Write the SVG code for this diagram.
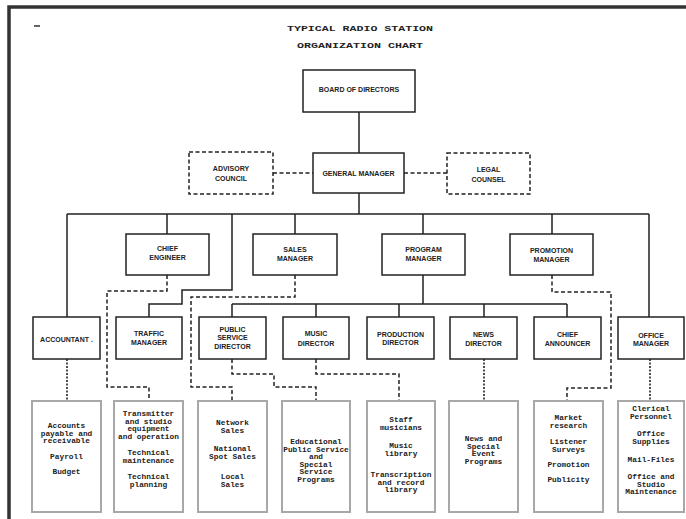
<svg xmlns="http://www.w3.org/2000/svg" width="686" height="519" viewBox="0 0 686 519">
<style>
.bg{fill:#fff}
.frame{stroke:#333;stroke-width:3.5;fill:none}
.box{fill:#fff;stroke:#222;stroke-width:1.5}
.dbox{fill:#fff;stroke:#222;stroke-width:1.5;stroke-dasharray:4 2.5}
.lbox{fill:#fff;stroke:#a8a8a8;stroke-width:2}
.ln{fill:none;stroke:#222;stroke-width:1.5}
.dl{fill:none;stroke:#222;stroke-width:1.5;stroke-dasharray:4 2.5}
.dd{fill:none;stroke:#222;stroke-width:1.6;stroke-dasharray:2 1.5}
.t{font-family:"Liberation Sans",Arial,sans-serif;font-size:7px;font-weight:bold;fill:#222;text-anchor:middle;dominant-baseline:central}
.tt{font-family:"Liberation Mono","Courier New",monospace;font-size:8px;font-weight:bold;fill:#222;text-anchor:middle;dominant-baseline:central}
.s{font-family:"Liberation Mono","Courier New",monospace;font-size:7.8px;font-weight:bold;fill:#222;text-anchor:middle;dominant-baseline:central}
</style>
<rect class="bg" x="0" y="0" width="686" height="519"/>
<path class="frame" d="M686,7 H9 V519"/>
<path d="M34,26 H40" stroke="#333" stroke-width="1.5"/>

<text class="tt" x="360" y="28" textLength="146" lengthAdjust="spacingAndGlyphs">TYPICAL RADIO STATION</text>
<text class="tt" x="360" y="45" textLength="126" lengthAdjust="spacingAndGlyphs">ORGANIZATION CHART</text>

<g id="connectors">
<path class="ln" d="M359,112 V153 M359,193 V214 M67,214 H649 M67,214 V317 M167,214 V234 M232,214 V290 H182 V304 H149 V317 M295,214 V234 M423,214 V234 M552,214 V234 M649,214 V317"/>
<path class="ln" d="M423,275 V304 M232,304 H567 M232,304 V317 M316,304 V317 M399,304 V317 M484,304 V317 M567,304 V317"/>
<path class="dl" d="M273,173 H313 M404,173 H447"/>
<path class="dl" d="M167,275 V291 H107 V387 H149 V401"/>
<path class="dl" d="M295,275 V297 H191 V387 H232 V401"/>
<path class="dl" d="M232,359 V374 H274 V387 H316 V401"/>
<path class="dl" d="M316,359 V374 H399 V401"/>
<path class="dl" d="M552,275 V292 H611 V388 H567 V401"/>
<path class="dd" d="M67,359 V401 M484,359 V401 M650,359 V401"/>
</g>

<g id="board"><rect class="box" x="303" y="70" width="112" height="42"/><text class="t" x="359" y="89">BOARD OF DIRECTORS</text></g>
<g id="advisory"><rect class="dbox" x="189" y="152" width="84" height="42"/><text class="t" x="231" y="168">ADVISORY</text><text class="t" x="231" y="178">COUNCIL</text></g>
<g id="gm"><rect class="box" x="313" y="153" width="91" height="40"/><text class="t" x="358.5" y="173">GENERAL MANAGER</text></g>
<g id="legal"><rect class="dbox" x="447" y="153" width="83" height="41"/><text class="t" x="488.5" y="169">LEGAL</text><text class="t" x="488.5" y="179">COUNSEL</text></g>

<g id="chief-engineer"><rect class="box" x="126" y="234" width="83" height="41"/><text class="t" x="167.5" y="248">CHIEF</text><text class="t" x="167.5" y="257">ENGINEER</text></g>
<g id="sales-manager"><rect class="box" x="253" y="234" width="84" height="41"/><text class="t" x="295" y="249">SALES</text><text class="t" x="295" y="258">MANAGER</text></g>
<g id="program-manager"><rect class="box" x="382" y="234" width="83" height="41"/><text class="t" x="423.5" y="249">PROGRAM</text><text class="t" x="423.5" y="258">MANAGER</text></g>
<g id="promotion-manager"><rect class="box" x="510" y="234" width="83" height="41"/><text class="t" x="551.5" y="250">PROMOTION</text><text class="t" x="551.5" y="259">MANAGER</text></g>

<g id="accountant"><rect class="box" x="33" y="317" width="67" height="42"/><text class="t" x="66.5" y="339">ACCOUNTANT .</text></g>
<g id="traffic-manager"><rect class="box" x="116" y="317" width="66" height="42"/><text class="t" x="149" y="333">TRAFFIC</text><text class="t" x="149" y="342">MANAGER</text></g>
<g id="public-service-director"><rect class="box" x="199" y="317" width="67" height="42"/><text class="t" x="232.5" y="329">PUBLIC</text><text class="t" x="232.5" y="337.5">SERVICE</text><text class="t" x="232.5" y="346">DIRECTOR</text></g>
<g id="music-director"><rect class="box" x="283" y="317" width="66" height="42"/><text class="t" x="316" y="333">MUSIC</text><text class="t" x="316" y="343">DIRECTOR</text></g>
<g id="production-director"><rect class="box" x="367" y="317" width="67" height="42"/><text class="t" x="400.5" y="334">PRODUCTION</text><text class="t" x="400.5" y="342">DIRECTOR</text></g>
<g id="news-director"><rect class="box" x="450" y="317" width="67" height="42"/><text class="t" x="483.5" y="334">NEWS</text><text class="t" x="483.5" y="343">DIRECTOR</text></g>
<g id="chief-announcer"><rect class="box" x="534" y="317" width="67" height="42"/><text class="t" x="567.5" y="334">CHIEF</text><text class="t" x="567.5" y="343">ANNOUNCER</text></g>
<g id="office-manager"><rect class="box" x="618" y="317" width="66" height="42"/><text class="t" x="651" y="335">OFFICE</text><text class="t" x="651" y="343">MANAGER</text></g>

<g id="duties-accountant"><rect class="lbox" x="32" y="401" width="69" height="111"/>
<text class="s" x="66.5" y="426">Accounts</text><text class="s" x="66.5" y="433.5">payable and</text><text class="s" x="66.5" y="441">receivable</text><text class="s" x="66.5" y="457">Payroll</text><text class="s" x="66.5" y="472">Budget</text></g>
<g id="duties-engineering"><rect class="lbox" x="114" y="401" width="69" height="111"/>
<text class="s" x="148.5" y="414">Transmitter</text><text class="s" x="148.5" y="421.5">and studio</text><text class="s" x="148.5" y="429">equipment</text><text class="s" x="148.5" y="437">and operation</text><text class="s" x="148.5" y="453">Technical</text><text class="s" x="148.5" y="460.5">maintenance</text><text class="s" x="148.5" y="477">Technical</text><text class="s" x="148.5" y="485">planning</text></g>
<g id="duties-sales"><rect class="lbox" x="198" y="401" width="69" height="111"/>
<text class="s" x="232.5" y="423">Network</text><text class="s" x="232.5" y="430.5">Sales</text><text class="s" x="232.5" y="449">National</text><text class="s" x="232.5" y="457">Spot Sales</text><text class="s" x="232.5" y="477">Local</text><text class="s" x="232.5" y="484.5">Sales</text></g>
<g id="duties-public-service"><rect class="lbox" x="282" y="401" width="68" height="111"/>
<text class="s" x="316" y="442">Educational</text><text class="s" x="316" y="449.5">Public Service</text><text class="s" x="316" y="457">and</text><text class="s" x="316" y="464.5">Special</text><text class="s" x="316" y="472">Service</text><text class="s" x="316" y="479.5">Programs</text></g>
<g id="duties-music"><rect class="lbox" x="367" y="401" width="68" height="111"/>
<text class="s" x="401" y="420">Staff</text><text class="s" x="401" y="428">musicians</text><text class="s" x="401" y="446">Music</text><text class="s" x="401" y="454">library</text><text class="s" x="401" y="475">Transcription</text><text class="s" x="401" y="483">and record</text><text class="s" x="401" y="490">library</text></g>
<g id="duties-news"><rect class="lbox" x="449" y="401" width="69" height="111"/>
<text class="s" x="483.5" y="439">News and</text><text class="s" x="483.5" y="447">Special</text><text class="s" x="483.5" y="454">Event</text><text class="s" x="483.5" y="462">Programs</text></g>
<g id="duties-promotion"><rect class="lbox" x="534" y="401" width="69" height="111"/>
<text class="s" x="568.5" y="418">Market</text><text class="s" x="568.5" y="426">research</text><text class="s" x="568.5" y="442">Listener</text><text class="s" x="568.5" y="449.5">Surveys</text><text class="s" x="568.5" y="465">Promotion</text><text class="s" x="568.5" y="480">Publicity</text></g>
<g id="duties-office"><rect class="lbox" x="618" y="401" width="66" height="111"/>
<text class="s" x="651" y="409">Clerical</text><text class="s" x="651" y="417">Personnel</text><text class="s" x="651" y="434">Office</text><text class="s" x="651" y="442">Supplies</text><text class="s" x="651" y="460">Mail-Files</text><text class="s" x="651" y="477">Office and</text><text class="s" x="651" y="485">Studio</text><text class="s" x="651" y="492">Maintenance</text></g>
</svg>
